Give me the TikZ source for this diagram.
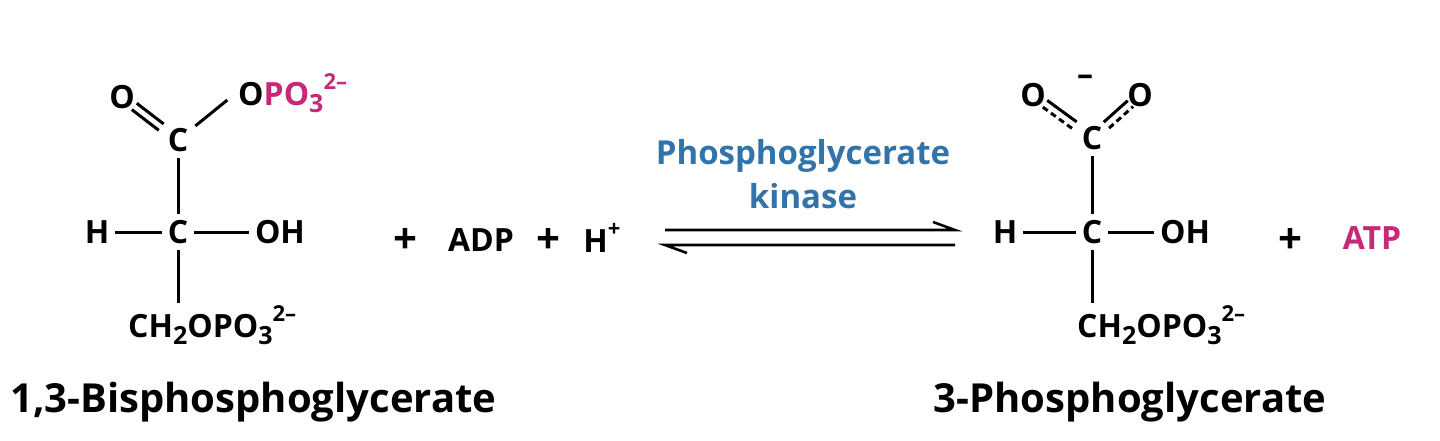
\documentclass[tikz,border=0pt]{standalone}
\usepackage{fontspec}
\setmainfont{Open Sans}
\usetikzlibrary{calc}
\definecolor{mag}{RGB}{200,40,120}
\definecolor{enz}{RGB}{50,115,170}
\newcommand\mysb[1]{\raisebox{-0.22em}{\fontsize{25}{25}\selectfont #1}}
\newcommand\mysp[1]{\raisebox{0.5em}{\fontsize{22}{22}\selectfont #1}}
\begin{document}
\begin{tikzpicture}[x=1pt,y=-1pt,
  atm/.style={font=\bfseries\fontsize{32}{34}\selectfont,inner sep=6pt},
  plus/.style={font=\bfseries\fontsize{42}{44}\selectfont,inner sep=2pt},
  lab/.style={font=\bfseries\fontsize{40}{44}\selectfont,inner sep=0pt},
  bond/.style={line width=3pt},
  db/.style={line width=3pt,dash pattern=on 6pt off 4pt}]
\useasboundingbox (0,0) rectangle (1440,440);
% left molecule
\node[atm] (O1) at (122,97) {O};
\node[atm] (C1) at (178,140) {C};
\node[atm,anchor=west,inner sep=2pt] (O2) at (236,93) {O\textcolor{mag}{PO\mysb{3}\mysp{2–}}};
\node[atm] (C2) at (178,232) {C};
\node[atm] (H1) at (97,232) {H};
\node[atm] (OH1) at (280,232) {OH};
\node[atm,anchor=west,inner sep=2pt] (R1) at (126,325) {CH\mysb{2}OPO\mysb{3}\mysp{2–}};
\coordinate (R1t) at (178,303);
\coordinate (s1) at ($(C1)!0.3!(O1)$); \coordinate (e1) at ($(C1)!0.78!(O1)$);
\draw[bond] ($(s1)!4pt!90:(e1)$) -- ($(e1)!4pt!-90:(s1)$);
\draw[bond] ($(s1)!4pt!-90:(e1)$) -- ($(e1)!4pt!90:(s1)$);
\draw[bond] ($(C1)!0.3!(O2.west)$) -- ($(C1)!0.85!(O2.west)$);
\draw[bond] (C1) -- (C2);
\draw[bond] (H1) -- (C2);
\draw[bond] (C2) -- (OH1);
\draw[bond] (C2) -- (R1t);
\node[lab,anchor=west] (N1) at (10,402) {1,3-Bisphosphoglycerate};
% reagents
\node[plus] (p1) at (405,241) {+};
\node[atm] (adp) at (481,240) {ADP};
\node[plus] (p2) at (548,241) {+};
\node[atm] (hp) at (602,238) {H\mysp{+}};
% arrows
\coordinate (a1) at (665,230); \coordinate (a2) at (955,230);
\coordinate (b1) at (665,245); \coordinate (b2) at (955,245);
\draw[line width=2.6pt] (a1) -- (a2) -- ++(-22,-8);
\draw[line width=2.6pt] (b2) -- (b1) -- ++(22,8);
\node[font=\bfseries\fontsize{33}{44}\selectfont,text=enz,align=center] (enzn) at (803,174) {Phosphoglycerate\\kinase};
% right molecule
\node[atm] (O3) at (1033,95) {O};
\node[atm] (O4) at (1140,95) {O};
\node[atm] (mn) at (1085,80) {–};
\node[atm] (C3) at (1092,138) {C};
\node[atm] (C4) at (1092,232) {C};
\node[atm] (H2) at (1005,232) {H};
\node[atm] (OH2) at (1185,232) {OH};
\node[atm,anchor=west,inner sep=2pt] (R2) at (1075,325) {CH\mysb{2}OPO\mysb{3}\mysp{2–}};
\coordinate (R2t) at (1092,303);
\coordinate (s3) at ($(C3)!0.3!(O3)$); \coordinate (e3) at ($(C3)!0.8!(O3)$);
\draw[db] ($(s3)!4pt!90:(e3)$) -- ($(e3)!4pt!-90:(s3)$);
\draw[bond] ($(s3)!4pt!-90:(e3)$) -- ($(e3)!4pt!90:(s3)$);
\coordinate (s4) at ($(C3)!0.3!(O4)$); \coordinate (e4) at ($(C3)!0.8!(O4)$);
\draw[db] ($(s4)!4pt!-90:(e4)$) -- ($(e4)!4pt!90:(s4)$);
\draw[bond] ($(s4)!4pt!90:(e4)$) -- ($(e4)!4pt!-90:(s4)$);
\draw[bond] (C3) -- (C4);
\draw[bond] (H2) -- (C4);
\draw[bond] (C4) -- (OH2);
\draw[bond] (C4) -- (R2t);
\node[lab] (N2) at (1130,402) {3-Phosphoglycerate};
\node[plus] (p3) at (1290,241) {+};
\node[atm,text=mag] (atp) at (1372,238) {ATP};
\end{tikzpicture}
\end{document}
